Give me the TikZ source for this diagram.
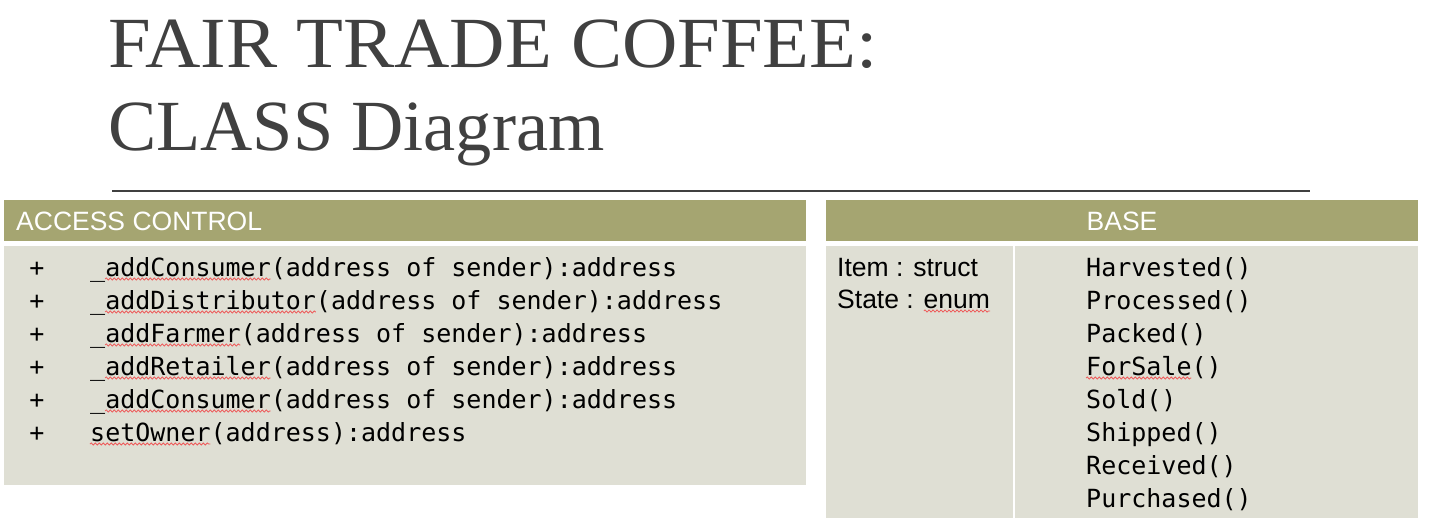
\documentclass[tikz,border=0pt]{standalone}
\usepackage{fontspec}
\setmainfont{Liberation Serif}
\newfontfamily\titlefontA[FakeStretch=1.065]{Liberation Serif}
\newfontfamily\titlefontB[FakeStretch=1.005]{Liberation Serif}
\newfontfamily\labelfont{Liberation Sans}
\newfontfamily\codefont{DejaVu Sans Mono}
\usetikzlibrary{calc,decorations.pathmorphing}
\definecolor{titlegray}{RGB}{64,64,64}
\definecolor{headolive}{RGB}{165,165,113}
\definecolor{bodygray}{RGB}{223,223,212}
\definecolor{spellred}{RGB}{238,90,90}

\begin{document}
\begin{tikzpicture}[x=1pt,y=-1pt,
  title/.style={anchor=base west,inner sep=0,text=titlegray},
  head/.style={fill=headolive,draw=none},
  body/.style={fill=bodygray,draw=none},
  headtext/.style={inner sep=0,text=white,font=\labelfont\fontsize{26.5}{26.5}\selectfont},
  code/.style={anchor=base west,inner sep=0,font=\codefont\fontsize{25}{25}\selectfont},
  plus/.style={anchor=base,inner sep=0,font=\codefont\fontsize{25}{25}\selectfont},
  plain/.style={anchor=base west,inner sep=0,font=\labelfont\fontsize{26.5}{26.5}\selectfont},
  squig/.style={draw=spellred,line width=0.8pt,decorate,
    decoration={snake,amplitude=1.1pt,segment length=4pt}},
]
\useasboundingbox (0,0) rectangle (1429,532);

% title and rule
\node[title,font=\titlefontA\fontsize{72}{72}\selectfont] (t1) at (108,68) {FAIR TRADE COFFEE:};
\node[title,font=\titlefontB\fontsize{72}{72}\selectfont] (t2) at (108,150) {CLASS Diagram};
\draw[titlegray,line width=2.2pt] (112,191) -- (1310,191);

% ACCESS CONTROL table
\fill[head] (4,200) rectangle (806,241);
\fill[body] (4,246) rectangle (806,485);
\node[headtext,anchor=base west] (achead) at (16,230) {ACCESS CONTROL};

\foreach \i/\yy in {1/276,2/309,3/342,4/375,5/408,6/441}
  \node[plus] (p\i) at (37,\yy) {+};
\node[code] (a1) at (90,276) {\_addConsumer(address of sender):address};
\node[code] (a2) at (90,309) {\_addDistributor(address of sender):address};
\node[code] (a3) at (90,342) {\_addFarmer(address of sender):address};
\node[code] (a4) at (90,375) {\_addRetailer(address of sender):address};
\node[code] (a5) at (90,408) {\_addConsumer(address of sender):address};
\node[code] (a6) at (90,441) {setOwner(address):address};

% spell-check marks
\draw[squig] ($(a1.base west)+(15.05,3)$) -- ++(165.5,0);
\draw[squig] ($(a2.base west)+(15.05,3)$) -- ++(210.7,0);
\draw[squig] ($(a3.base west)+(15.05,3)$) -- ++(135.4,0);
\draw[squig] ($(a4.base west)+(15.05,3)$) -- ++(165.5,0);
\draw[squig] ($(a5.base west)+(15.05,3)$) -- ++(165.5,0);
\draw[squig] ($(a6.base west)+(0,3)$) -- ++(120.4,0);

% BASE table
\fill[head] (826,200) rectangle (1418,241);
\fill[body] (826,246) rectangle (1418,518);
\draw[white,line width=2pt] (1014,246) -- (1014,518);
\node[headtext,anchor=base] (bhead) at (1122,230) {BASE};

\node[plain] (it) at (837,276) {Item : struct};
\node[plain] (st) at (837,308) {State : enum};
\draw[squig] ($(st.base east)+(-66.3,3)$) -- ($(st.base east)+(0,3)$);

\node[code] (m1) at (1086,276) {Harvested()};
\node[code] (m2) at (1086,309) {Processed()};
\node[code] (m3) at (1086,342) {Packed()};
\node[code] (m4) at (1086,375) {ForSale()};
\node[code] (m5) at (1086,408) {Sold()};
\node[code] (m6) at (1086,441) {Shipped()};
\node[code] (m7) at (1086,474) {Received()};
\node[code] (m8) at (1086,507) {Purchased()};
\draw[squig] ($(m4.base west)+(0,3)$) -- ++(105.4,0);
\end{tikzpicture}
\end{document}
